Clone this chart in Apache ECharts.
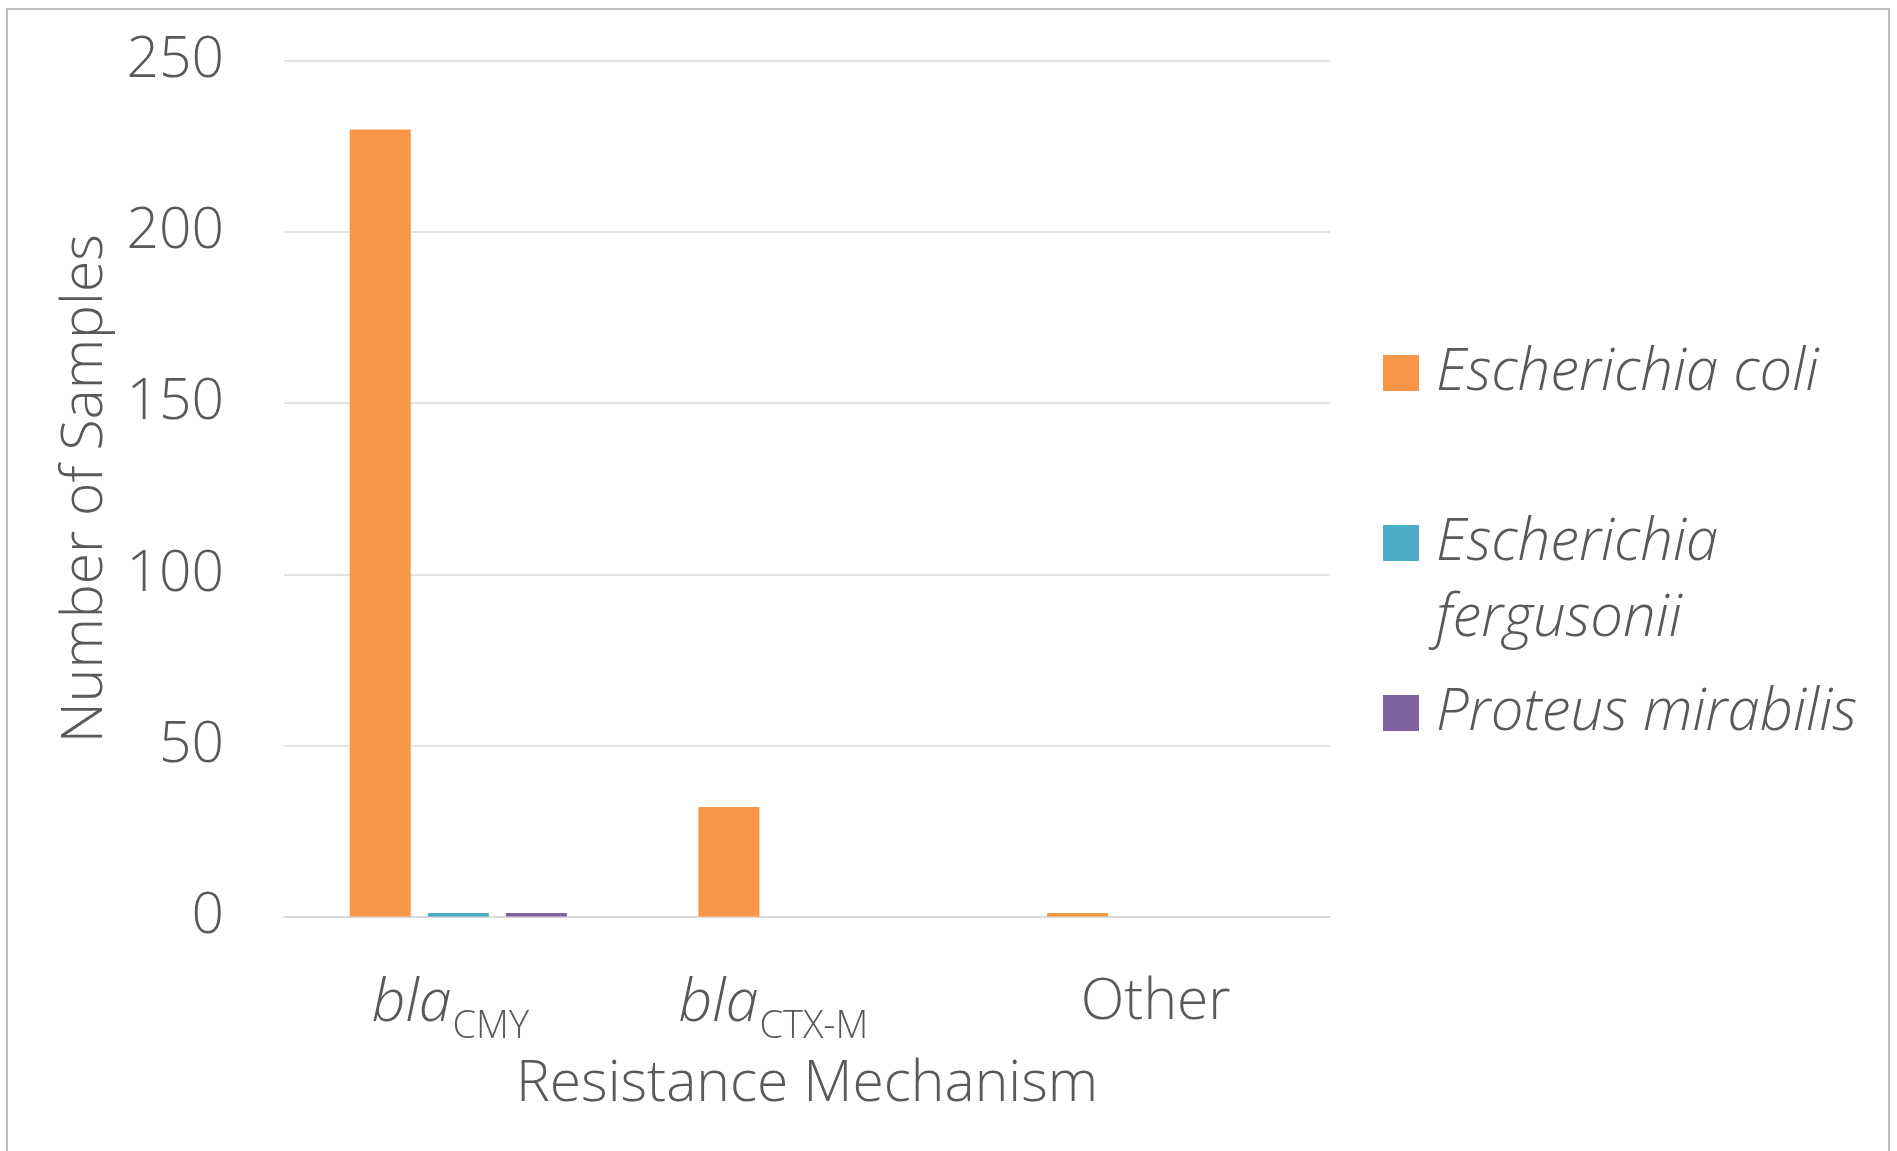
<!DOCTYPE html>
<html>
<head>
<meta charset="utf-8">
<script src="https://cdn.jsdelivr.net/npm/echarts@6/dist/echarts.min.js"></script>
<style>
html,body{margin:0;padding:0;background:#fff;}
#chart{position:absolute;left:0;top:0;width:1897px;height:1151px;}
#frame{position:absolute;left:6px;top:8px;width:1880px;height:1200px;border:2px solid #bfbfbf;pointer-events:none;}
</style>
</head>
<body>
<div id="chart"></div>
<div id="frame"></div>
<script>
// Categories: "italic|subscript" or plain text
const categories = ['bla|CMY', 'bla|CTX-M', 'Other'];
const seriesNames = ['Escherichia coli', 'Escherichia fergusonii', 'Proteus mirabilis'];
const eColi = [230, 32, 1];
const eFergusonii = [1, 0, 0];
const pMirabilis = [1, 0, 0];
const yTicks = [0, 50, 100, 150, 200, 250];

const colors = ['#F79646', '#4BACC6', '#8064A2'];
const textColor = '#595959';
const FONT = "'Open Sans', 'Noto Sans', sans-serif";
const W = 300;

const chart = echarts.init(document.getElementById('chart'));

const seriesData = [eColi, eFergusonii, pMirabilis];

const subStyle = function (padRight) {
  return { fontFamily: FONT, fontWeight: W, fontSize: 38, color: textColor, lineHeight: 60, verticalAlign: 'top', padding: [34, padRight, 0, 1] };
};

chart.setOption({
  animation: false,
  color: colors,
  textStyle: { fontFamily: FONT, color: textColor },
  grid: { left: 284, right: 567, top: 61, bottom: 234.5, containLabel: false },
  legend: {
    orient: 'vertical',
    left: 1383,
    top: 335,
    padding: 0,
    itemWidth: 36,
    itemHeight: 36,
    itemGap: 18,
    icon: 'rect',
    data: seriesNames,
    formatter: function (name) {
      if (name === 'Escherichia fergusonii') return ' \nEscherichia\nfergusonii';
      return name;
    },
    textStyle: {
      fontFamily: FONT,
      fontStyle: 'italic',
      fontWeight: W,
      fontSize: 58,
      lineHeight: 76,
      color: textColor,
      padding: [0, 0, 0, 12]
    }
  },
  xAxis: {
    type: 'category',
    data: categories,
    axisTick: { show: false },
    axisLine: { lineStyle: { color: '#d9d9d9', width: 2 } },
    axisLabel: {
      margin: 58,
      formatter: function (v, idx) {
        const p = v.split('|');
        if (p.length === 2) return '{i|' + p[0] + '}{s' + idx + '|' + p[1] + '}';
        return '{n|' + v + '}';
      },
      rich: {
        i: { fontFamily: FONT, fontStyle: 'italic', fontWeight: W, fontSize: 59, color: textColor, lineHeight: 60, verticalAlign: 'top' },
        s0: subStyle(16),
        s1: subStyle(67),
        s2: subStyle(16),
        n: { fontFamily: FONT, fontWeight: W, fontSize: 57, color: textColor, lineHeight: 60, verticalAlign: 'top' }
      }
    },
    name: 'Resistance Mechanism',
    nameLocation: 'middle',
    nameGap: 140,
    nameTextStyle: { fontFamily: FONT, fontWeight: W, fontSize: 57, color: textColor }
  },
  yAxis: {
    type: 'value',
    min: 0,
    max: 250,
    interval: 50,
    axisLine: { show: false },
    axisTick: { show: false },
    splitLine: { lineStyle: { color: '#d9d9d9', width: 1.5 } },
    axisLabel: {
      margin: 60,
      fontFamily: FONT,
      fontWeight: W,
      fontSize: 57,
      color: textColor,
      formatter: function (v) { return yTicks.indexOf(v) >= 0 ? String(v) : ''; }
    },
    name: 'Number of Samples',
    nameLocation: 'middle',
    nameGap: 170,
    nameTextStyle: { fontFamily: FONT, fontWeight: W, fontSize: 57, color: textColor }
  },
  series: seriesNames.map(function (n, i) {
    return {
      name: n,
      type: 'bar',
      data: seriesData[i],
      barWidth: 61,
      barGap: '28%',
      itemStyle: { color: colors[i] }
    };
  })
});
</script>
</body>
</html>
